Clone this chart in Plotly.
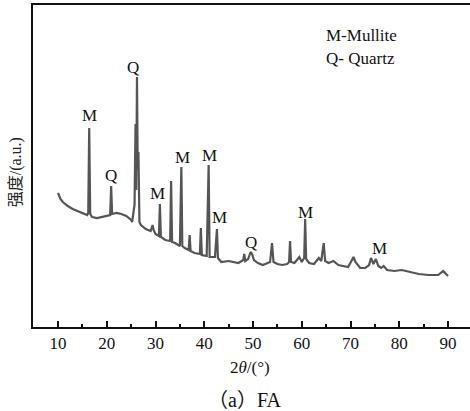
import plotly.graph_objects as go

# 2theta (deg) and intensity (a.u.)
two_theta = [10.0, 10.5, 11.0, 12.0, 13.0, 14.0, 15.0, 16.0, 16.2, 16.4, 16.6, 17.0, 18.0, 19.0, 20.0,
             20.7, 20.9, 21.1, 22.0, 23.0, 24.0, 25.0, 25.2, 25.7, 25.9, 26.05, 26.2, 26.35, 26.5, 26.7,
             27.0, 28.0, 29.0, 29.4, 29.6, 30.0, 30.7, 30.9, 31.1, 32.0, 33.0, 33.2, 33.4, 34.0, 35.0,
             35.3, 35.5, 36.0, 36.8, 37.0, 37.2, 38.0, 39.1, 39.3, 39.5, 40.5, 40.9, 41.1, 42.2, 42.6,
             42.8, 43.5, 45.0, 46.0, 47.0, 48.0, 48.2, 48.4, 49.0, 49.5, 49.8, 50.2, 51.0, 52.0, 53.0,
             53.5, 53.9, 54.2, 55.0, 56.0, 57.0, 57.4, 57.6, 57.8, 58.5, 59.5, 60.0, 60.5, 60.7, 60.9,
             61.5, 62.5, 63.5, 64.0, 64.5, 64.8, 65.5, 66.5, 67.5, 68.5, 69.5, 70.3, 70.6, 71.0, 72.0,
             73.0, 73.8, 74.2, 74.7, 75.2, 75.7, 76.3, 76.8, 77.5, 79.0, 80.5, 82.0, 84.0, 86.0, 88.0,
             89.0, 89.5, 90.0]
intensity = [134, 128, 125, 121, 118, 116, 114, 112, 114, 199, 113, 110, 109, 110, 111,
             112, 141, 113, 114, 113, 111, 107, 105, 122, 203, 137, 250, 157, 175, 105,
             102, 98, 96, 102, 97, 93, 91, 123, 90, 87, 86, 146, 85, 84, 81,
             160, 81, 79, 77, 92, 76, 74, 73, 99, 72, 71, 162, 70, 70, 98,
             69, 65, 66, 65, 64, 67, 73, 66, 68, 75, 73, 67, 64, 62, 64,
             65, 84, 65, 63, 62, 63, 65, 86, 65, 64, 70, 65, 69, 108, 68,
             64, 63, 69, 66, 84, 66, 64, 66, 62, 61, 60, 67, 70, 65, 59,
             59, 62, 69, 63, 68, 61, 59, 61, 57, 56, 57, 55, 53, 52, 52,
             56, 53, 51]

# peak labels: phase letter, 2theta, height
label_text = ["M", "Q", "Q", "M", "M", "M", "M", "Q", "M", "M"]
label_x = [16.4, 20.9, 25.4, 30.5, 35.6, 41.0, 43.2, 49.6, 60.7, 76.0]
label_y = [212, 152, 260, 134, 170, 172, 110, 85, 115, 79]

legend_lines = ["M-Mullite", "Q- Quartz"]
legend_y = [292, 269]

SERIF = "Liberation Serif"

fig = go.Figure()
fig.add_trace(go.Scatter(x=two_theta, y=intensity, mode="lines",
                         line=dict(color="#555555", width=2.2), showlegend=False,
                         hoverinfo="skip"))

for t, x, y in zip(label_text, label_x, label_y):
    fig.add_annotation(x=x, y=y, text=t, showarrow=False, xanchor="center", yanchor="middle",
                       font=dict(family=SERIF, size=17, color="#111111"))

for t, y in zip(legend_lines, legend_y):
    fig.add_annotation(x=64.6, y=y, text=t, showarrow=False, xanchor="left", yanchor="middle",
                       font=dict(family=SERIF, size=17, color="#111111"))

fig.add_annotation(xref="paper", yref="paper", x=-0.037, y=0.48, text="强度/(a.u.)",
                   textangle=-90, showarrow=False, xanchor="center", yanchor="middle",
                   font=dict(family="Liberation Serif, Noto Sans CJK SC", size=16, color="#222222"))
fig.add_annotation(xref="paper", yref="paper", x=0.497, y=-0.127, text="2<i>θ</i>/(°)",
                   showarrow=False, xanchor="center", yanchor="middle",
                   font=dict(family=SERIF, size=17, color="#111111"))
fig.add_annotation(xref="paper", yref="paper", x=0.485, y=-0.227, text="（a）FA",
                   showarrow=False, xanchor="center", yanchor="middle",
                   font=dict(family="Liberation Serif, Noto Sans CJK SC", size=20, color="#111111"))

fig.update_layout(
    width=470, height=411,
    margin=dict(l=33, r=0, t=5, b=84),
    paper_bgcolor="white", plot_bgcolor="white",
    font=dict(family=SERIF),
    xaxis=dict(range=[4.87, 94.51], tickvals=[10, 20, 30, 40, 50, 60, 70, 80, 90],
               ticks="inside", ticklen=6, tickwidth=1.5, tickcolor="#111111",
               minor=dict(tickvals=[5, 15, 25, 35, 45, 55, 65, 75, 85], ticks="inside",
                          ticklen=3, tickwidth=1.5, tickcolor="#111111"),
               showline=True, linewidth=1.8, linecolor="#111111", mirror=True,
               showgrid=False, zeroline=False,
               tickfont=dict(family=SERIF, size=17, color="#111111")),
    yaxis=dict(range=[0, 322], showticklabels=False, ticks="",
               showline=True, linewidth=1.8, linecolor="#111111",
               showgrid=False, zeroline=False),
)

fig.write_html("out.html")
